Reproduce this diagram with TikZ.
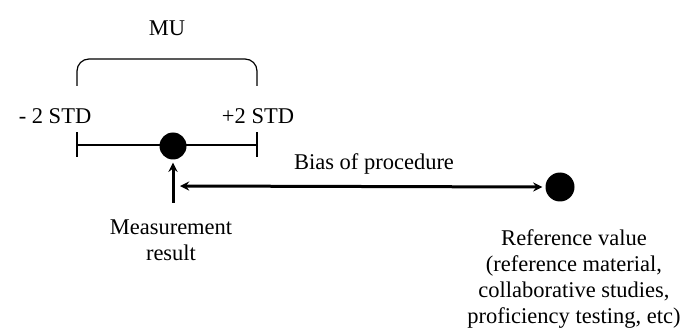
\documentclass[tikz,border=0pt]{standalone}
\usepackage{fontspec}
\setmainfont{Liberation Serif}
\usetikzlibrary{arrows}

\begin{document}
\begin{tikzpicture}[x=1pt,y=-1pt,font=\fontsize{22.5}{26}\selectfont]
\useasboundingbox (0,0) rectangle (685,331);
\node (mu) at (167,28) {MU};
\draw [line width=1.2pt, rounded corners=12pt] (77,86) -- (77,59) -- (257,59) -- (257,86);
\node (lo) at (55,116) {- 2 STD};
\node (hi) at (258,116) {+2 STD};
\coordinate (left) at (77,145);
\coordinate (right) at (257,145);
\draw [line width=1.2pt] (left) -- (right);
\draw [line width=1.2pt] ([yshift=-12pt] left) -- ([yshift=+13pt] left);
\draw [line width=1.2pt] ([yshift=-12pt] right) -- ([yshift=+13pt] right);
\node[circle, fill=black, inner sep=0pt, minimum size=27pt] (meas) at (173,146) {};
\node[circle, fill=black, inner sep=0pt, minimum size=29pt] (ref) at (560,187) {};
\coordinate (foot) at (173,203);
\coordinate (tip) at (180,186);
\draw [->,>=stealth,line width=3pt] (foot) -- ([yshift=-3pt] meas.south);
\draw [<->,>=stealth,line width=3pt] (tip) -- ([xshift=-3pt] ref.west);
\node (bias) at (374,164) {Bias of procedure};
\node[align=center] (res) at (171,240) {Measurement\\result};
\node[align=center] (refval) at (574,279) {Reference value\\(reference material,\\collaborative studies,\\proficiency testing, etc)};
\end{tikzpicture}
\end{document}
